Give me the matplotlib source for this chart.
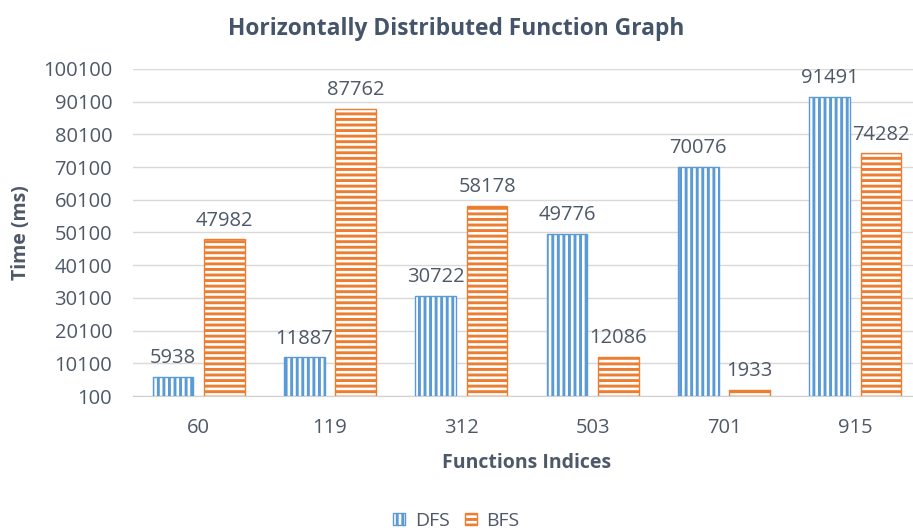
import matplotlib.pyplot as plt
import numpy as np

# search timings per function index
functions = ["60", "119", "312", "503", "701", "915"]
dfs_times = [5938, 11887, 30722, 49776, 70076, 91491]
bfs_times = [47982, 87762, 58178, 12086, 1933, 74282]
y_ticks = list(range(100, 100101, 10000))

base = 100
text_color = "#4D5869"
title_color = "#44546A"
blue = "#5B9BD5"
orange = "#ED7D31"

plt.rcParams["font.family"] = ["Open Sans", "DejaVu Sans"]
plt.rcParams["hatch.linewidth"] = 2.1

W, H = 913, 530
fig = plt.figure(figsize=(W / 100, H / 100), dpi=100)
# plot area runs off the right edge a little, like the original export
ax = fig.add_axes([133 / W, 1 - 396 / H, 788 / W, 327 / H])

x = np.arange(len(functions))
w = 0.31
off = 0.196
dfs = ax.bar(x - off, np.array(dfs_times) - base, w, bottom=base,
             color="white", edgecolor=blue, hatch="|||", linewidth=1.0,
             label="DFS", zorder=3)
bfs = ax.bar(x + off, np.array(bfs_times) - base, w, bottom=base,
             color="white", edgecolor=orange, hatch="---", linewidth=1.0,
             label="BFS", zorder=3)

for bars, vals in ((dfs, dfs_times), (bfs, bfs_times)):
    for b, v in zip(bars, vals):
        ax.annotate(str(v), (b.get_x() + b.get_width() / 2, v),
                    xytext=(0, 10), textcoords="offset points",
                    ha="center", va="baseline", fontsize=14.5,
                    color=text_color)

ax.set_xlim(-0.5, len(functions) - 0.5)
ax.set_ylim(base, 100100)
ax.set_yticks(y_ticks)
ax.set_yticklabels([str(t) for t in y_ticks])
ax.set_xticks(x)
ax.set_xticklabels(functions)
ax.tick_params(axis="both", length=0, labelsize=14.5, labelcolor=text_color)
ax.tick_params(axis="x", pad=16)
ax.tick_params(axis="y", pad=15)

ax.yaxis.grid(True, color="#D9D9D9", linewidth=1.0, zorder=0)
ax.set_axisbelow(True)
for side in ("top", "right", "left"):
    ax.spines[side].set_visible(False)
ax.spines["bottom"].set_color("#D0D0D0")

ax.set_xlabel("Functions Indices", fontsize=14, fontweight="bold",
              color=text_color)
ax.xaxis.set_label_coords(0.5, -0.175)
fig.text(21 / W, 1 - 233 / H, "Time (ms)", rotation=90, ha="center",
         va="center", fontsize=14, fontweight="bold", color=text_color)

fig.text(0.5, 1 - 35 / H, "Horizontally Distributed Function Graph",
         ha="center", va="baseline", fontsize=16.4, fontweight="bold",
         color=title_color)

fig.legend(handles=[dfs, bfs], loc="center", bbox_to_anchor=(0.5, 1 - 521 / H),
           ncol=2, frameon=False, fontsize=14, labelcolor=text_color,
           handlelength=0.6, handleheight=0.6, handletextpad=0.5,
           columnspacing=0.8, borderpad=0)

fig.savefig("out.png", dpi=100)
